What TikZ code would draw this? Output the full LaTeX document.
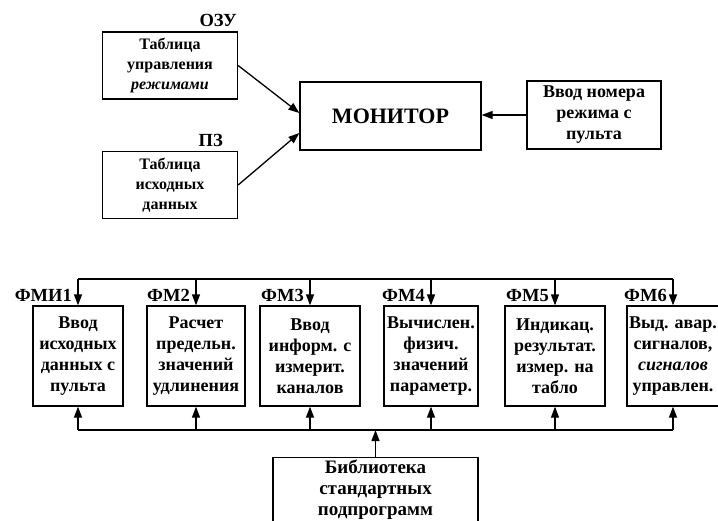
\documentclass[tikz,border=0pt]{standalone}
\usepackage{fontspec}
\setmainfont{Liberation Serif}
\usetikzlibrary{arrows.meta,positioning,calc}
\tikzset{
  box/.style   = {rectangle, draw, line width=1.3pt, align=center, inner sep=2pt,
                  font=\bfseries\fontsize{18}{21}\selectfont},
  tbl/.style   = {box, minimum width=135pt, minimum height=67pt,
                  font=\bfseries\fontsize{16}{20}\selectfont},
  mon/.style   = {box, minimum width=181pt, minimum height=68pt,
                  font=\bfseries\fontsize{22}{24}\selectfont},
  fmbox/.style = {box, minimum height=100pt},
  tag/.style   = {font=\bfseries\fontsize{18.5}{20}\selectfont, inner sep=0pt},
  flow/.style  = {-{Triangle[length=11pt,width=8pt]}, line width=1.3pt},
  bus/.style   = {line width=1.3pt},
}
\begin{document}
\begin{tikzpicture}[x=1pt, y=-1pt]
\useasboundingbox (0,0) rectangle (718,520);
% upper part
\node[tbl] (rtab) at (170,65.5) {Таблица\\управления\\\textit{режимами}};
\node[tbl] (dtab) at (170,185) {Таблица\\исходных\\данных};
\node[mon] (mon) at (390.5,116) {МОНИТОР};
\node[box, minimum width=134pt, minimum height=68pt] (inp) at (594,115) {Ввод номера\\режима с\\пульта};
\node[tag, anchor=base east] (ozu) at (rtab.north east -| 237,0) [yshift=5pt] {ОЗУ};
\node[tag, anchor=base east] (pz) at (dtab.north east -| 223,0) [yshift=4pt] {ПЗ};
\draw[flow] (rtab.east) -- ($(mon.west)+(0,-3)$);
\draw[flow] (dtab.east) -- ($(mon.west)+(0,17)$);
\draw[flow] (inp.west) -- (inp.west -| mon.east);
% modules
\node[fmbox, minimum width=90pt]  (b1) at (78,356)  {Ввод\\исходных\\данных с\\пульта};
\node[fmbox, minimum width=98pt]  (b2) at (196,356) {Расчет\\предельн.\\значений\\удлинения};
\node[fmbox, minimum width=100pt] (b3) at (310,356) {Ввод\\информ. с\\измерит.\\каналов};
\node[fmbox, minimum width=94pt]  (b4) at (431,356) {Вычислен.\\физич.\\значений\\параметр.};
\node[fmbox, minimum width=100pt] (b5) at (555,356) {Индикац.\\результат.\\измер. на\\табло};
\node[fmbox, minimum width=92pt]  (b6) at (673,356) {Выд. авар.\\сигналов,\\\textit{сигналов}\\управлен.};
\node[box, minimum width=205pt, minimum height=64.5pt, anchor=north,
      font=\bfseries\fontsize{19}{21}\selectfont] (lib) at (375.5,457) {Библиотека\\стандартных\\подпрограмм};
\coordinate (tbus) at (0,279);
\coordinate (bbus) at (0,430);
\draw[bus] (b1.north |- tbus) -- (b6.north |- tbus);
\draw[bus] (b1.south |- bbus) -- (b6.south |- bbus);
\foreach \i/\t in {1/ФМИ1, 2/ФМ2, 3/ФМ3, 4/ФМ4, 5/ФМ5, 6/ФМ6} {
  \draw[flow] (b\i.north |- tbus) -- (b\i.north);
  \draw[flow] (b\i.south |- bbus) -- (b\i.south);
  \node[tag, anchor=base east] (fm\i) at ($(b\i.north)+(-6,-4)$) {\t};
}
\draw[flow] (lib.north) -- (lib.north |- bbus);
\end{tikzpicture}
\end{document}
